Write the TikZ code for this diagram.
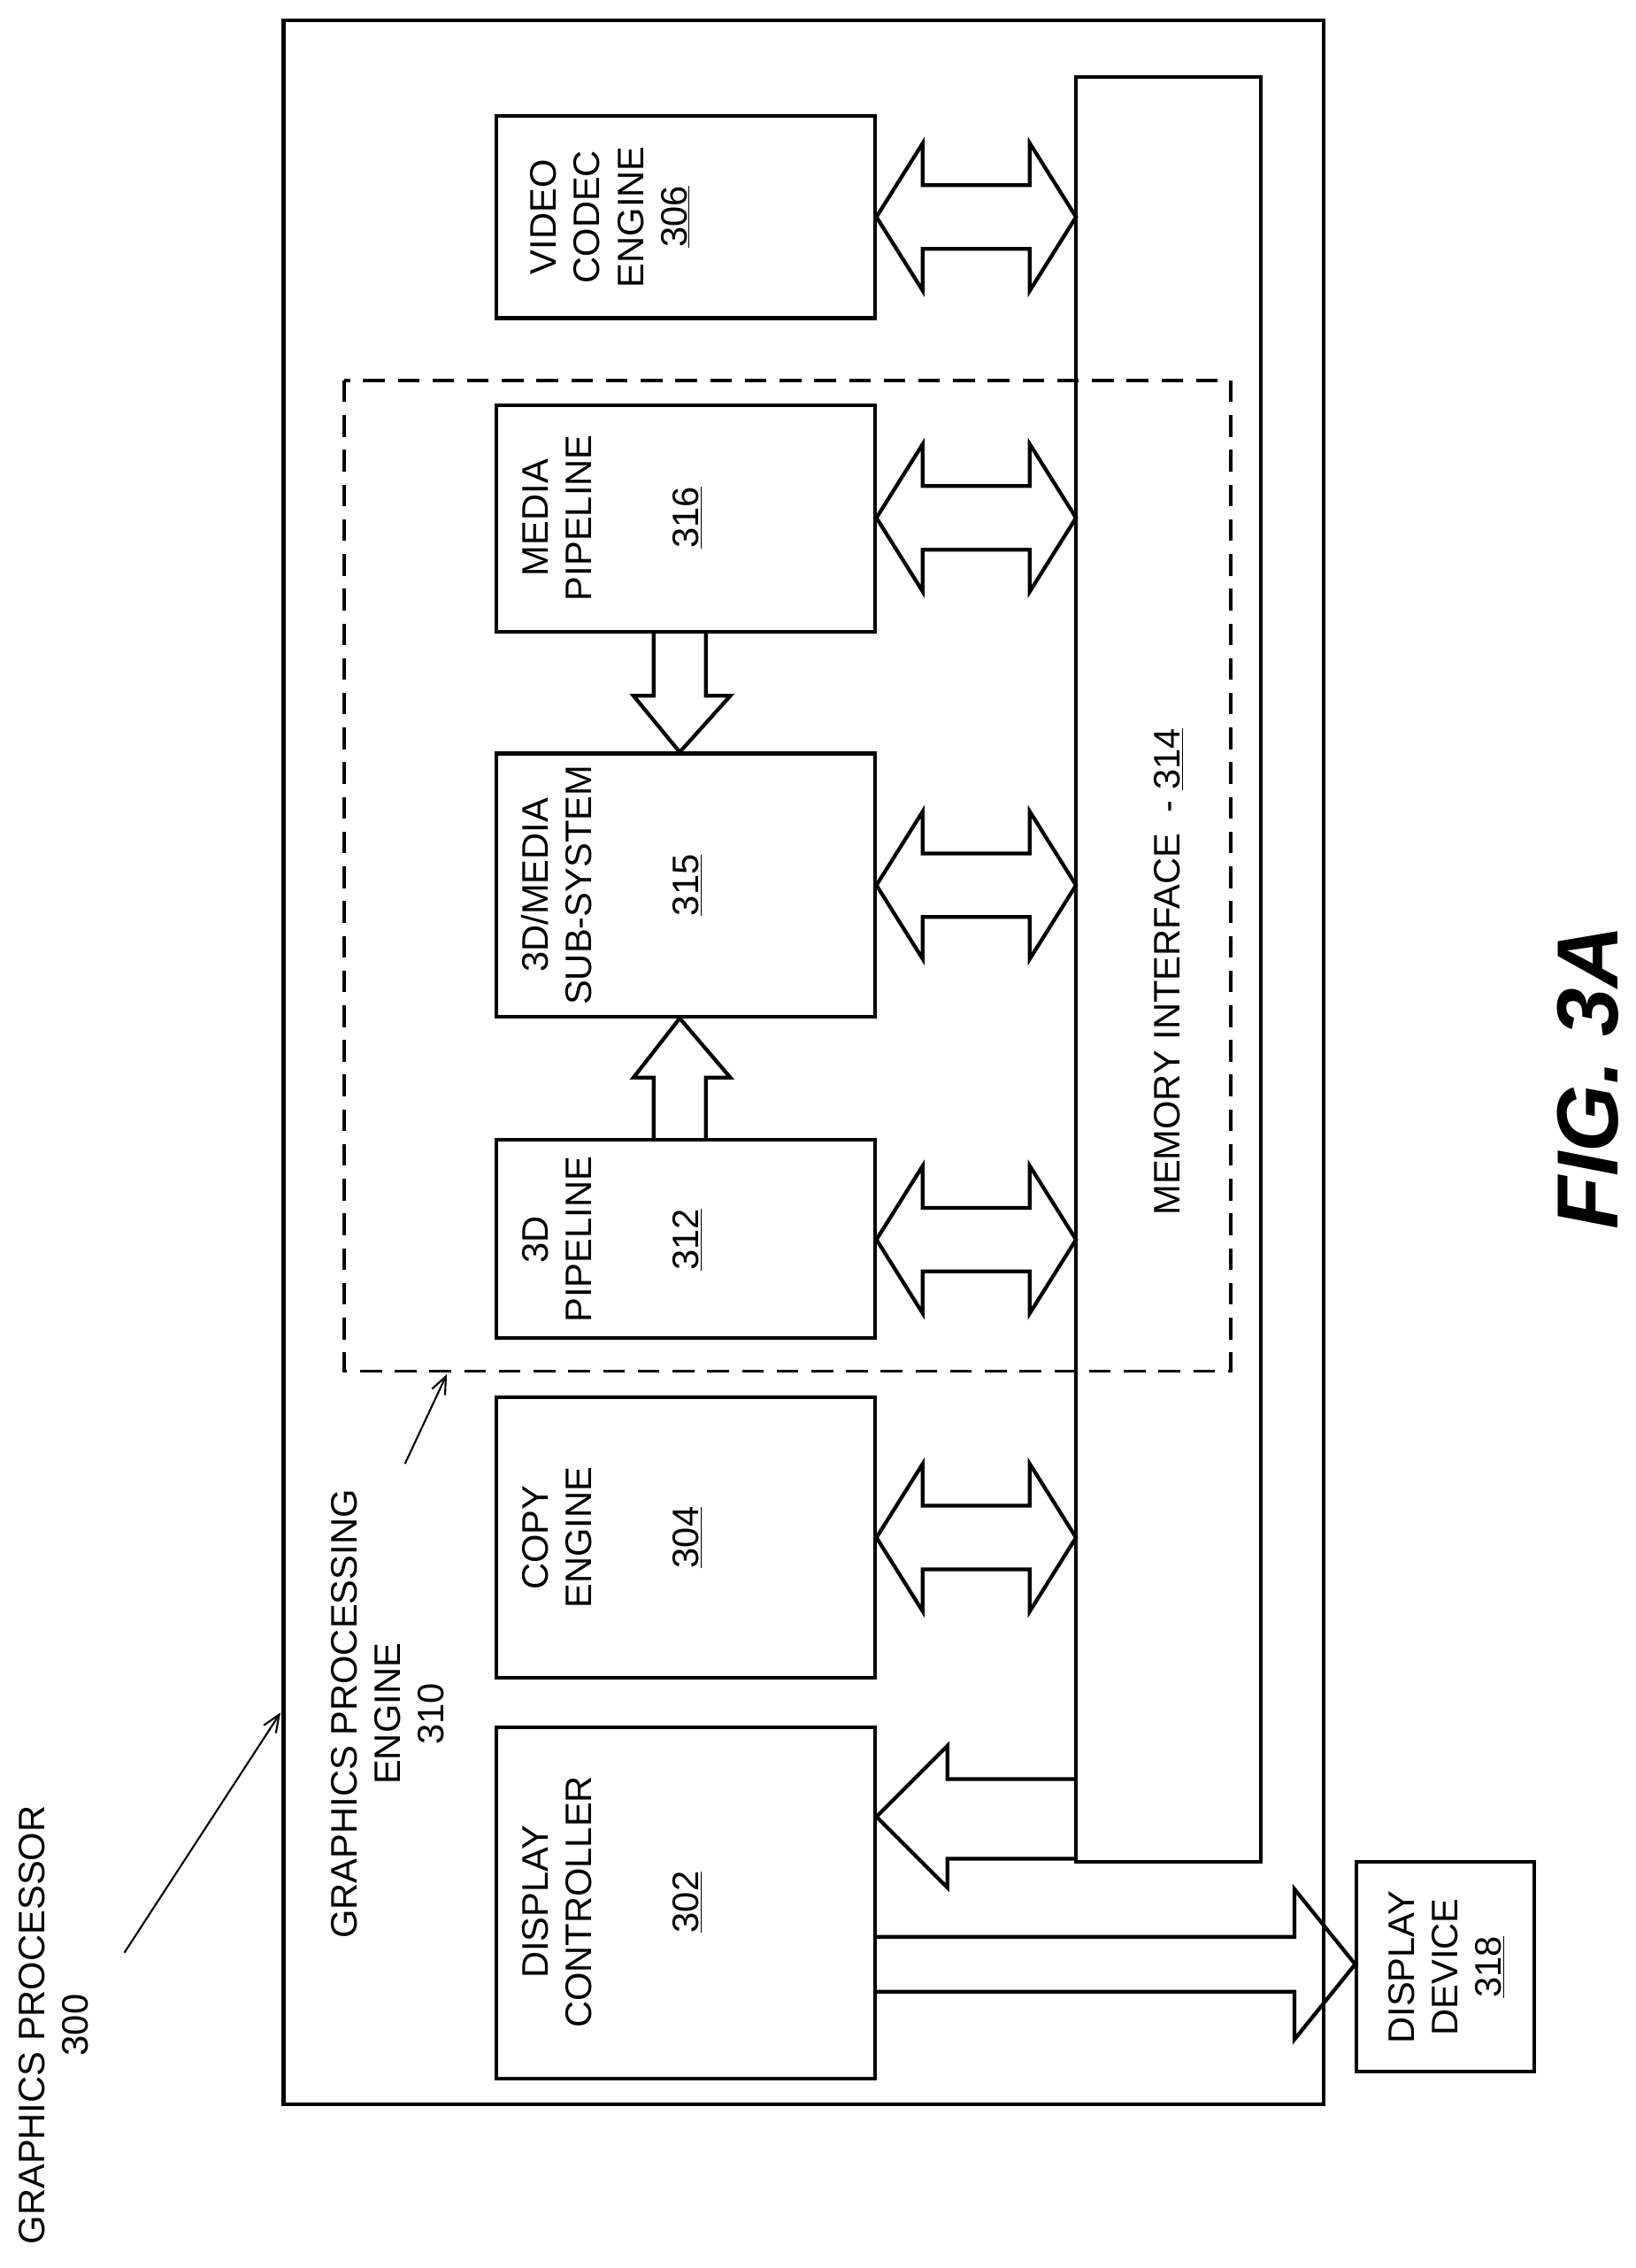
\documentclass[tikz,border=0pt]{standalone}
\usepackage{fontspec}
\setmainfont{Liberation Sans}
\usetikzlibrary{arrows.meta}
\begin{document}
\begin{tikzpicture}[x=1pt,y=-1pt,line width=2.6pt,line join=miter,
  lbl/.style={rotate=90,align=center,font=\fontsize{25.5}{30}\selectfont,inner sep=0pt},
  ptr/.style={line width=1.3pt,-{Straight Barb[length=12pt,width=10pt,line width=1.3pt]}}]
\useasboundingbox (0,0) rectangle (1131,1568);
% outer
\draw (196,14) rectangle (915,1455);
% memory interface
\draw (744,53) rectangle (872,1287);
\node[lbl] (mi) at (808,672) {MEMORY INTERFACE\ \ -\ \underline{314}};
% dashed
\draw[line width=2pt,dash pattern=on 15pt off 9pt] (238,263) rectangle (851,948);
% boxes
\draw (343,80) rectangle (605,220);
\node[lbl,font=\fontsize{25.5}{27}\selectfont] (vc) at (422,150) {VIDEO\\[3pt]CODEC\\[3pt]ENGINE\\[3pt]\underline{306}};
\draw (343,280) rectangle (605,437);
\node[lbl] (mp) at (385,358) {MEDIA\\PIPELINE};
\node[lbl] at (475,358) {\underline{316}};
\draw (343,521) rectangle (605,703);
\node[lbl] (ms) at (385,612) {3D/MEDIA\\SUB-SYSTEM};
\node[lbl] at (475,612) {\underline{315}};
\draw (343,788) rectangle (605,925);
\node[lbl] (tp) at (385,857) {3D\\PIPELINE};
\node[lbl] at (475,857) {\underline{312}};
\draw (343,966) rectangle (605,1160);
\node[lbl] (ce) at (385,1063) {COPY\\ENGINE};
\node[lbl] at (475,1063) {\underline{304}};
\draw (343,1194) rectangle (605,1437);
\node[lbl] (dc) at (385,1315) {DISPLAY\\CONTROLLER};
\node[lbl] at (475,1315) {\underline{302}};
\draw (938,1287) rectangle (1061,1432);
\node[lbl] (dd) at (1000,1360) {DISPLAY\\DEVICE\\\underline{318}};
% double arrows
\foreach \c in {150,358,612,857,1063}{
  \draw (606,\c) -- (638,\c-51) -- (638,\c-22) -- (712,\c-22) -- (712,\c-51) -- (744,\c)
     -- (712,\c+51) -- (712,\c+22) -- (638,\c+22) -- (638,\c+51) -- cycle;}
% display controller input
\draw (744,1230) -- (655,1230) -- (655,1207) -- (606,1256) -- (655,1305) -- (655,1285) -- (744,1285);
% output to display device
\draw (605,1339) -- (895,1339) -- (895,1306) -- (937,1358) -- (895,1410) -- (895,1377) -- (605,1377);
% vertical arrows
\draw (452,437) -- (452,481) -- (438,481) -- (470,520) -- (505,481) -- (488,481) -- (488,437);
\draw (452,788) -- (452,745) -- (438,745) -- (470,704) -- (505,745) -- (488,745) -- (488,788);
% labels
\node[lbl] (gp) at (37,1400) {GRAPHICS PROCESSOR\\300};
\node[lbl] (gpe) at (268,1185) {GRAPHICS PROCESSING\\ENGINE\\310};
\coordinate (gpa) at (86,1350);
\coordinate (gpb) at (194,1184);
\draw[ptr] (gpa) -- (gpb);
\coordinate (gea) at (280,1012);
\coordinate (geb) at (309,950);
\draw[ptr] (gea) -- (geb);
\node[rotate=90,font=\fontsize{60}{60}\selectfont\bfseries\itshape] (fig) at (1098,745) {FIG. 3A};
\end{tikzpicture}
\end{document}
